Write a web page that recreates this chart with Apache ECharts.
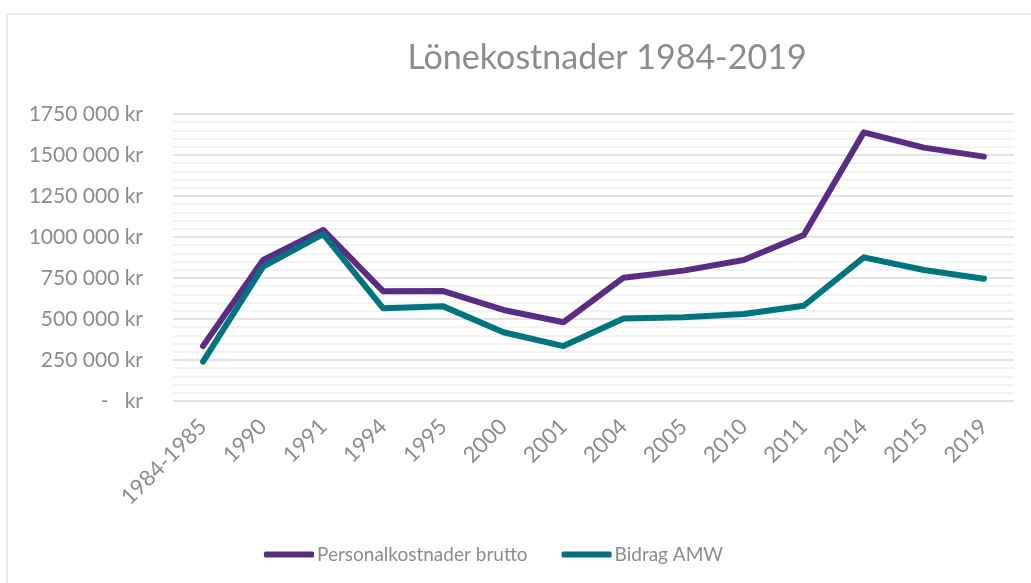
<!DOCTYPE html>
<html>
<head>
<meta charset="utf-8">
<script src="https://cdn.jsdelivr.net/npm/echarts@6/dist/echarts.min.js"></script>
<style>
    html, body { margin: 0; padding: 0; background: #fff; }
    #main { width: 1031px; height: 583px; }
</style>
</head>
<body>
<div id="main"></div>
<script>
    // kategorier (år) och värden i kr
    var years = ['1984-1985', '1990', '1991', '1994', '1995', '2000', '2001', '2004', '2005', '2010', '2011', '2014', '2015', '2019'];
    var personalkostnader = [335000, 860000, 1043000, 669000, 670000, 555000, 480000, 752000, 795000, 860000, 1012000, 1638000, 1545000, 1490000];
    var bidragAMW = [240000, 819000, 1018000, 565000, 577000, 419000, 335000, 503000, 511000, 530000, 581000, 876000, 799000, 746000];
    var yTicks = [0, 250000, 500000, 750000, 1000000, 1250000, 1500000, 1750000];

    var textColor = '#8c8c8c';
    var fontFam = 'Lato';

    function krLabel(v) {
        if (v === 0) return '-   kr';
        var rest = String(v % 1000);
        while (rest.length < 3) rest = '0' + rest;
        return Math.floor(v / 1000) + ' ' + rest + ' kr';
    }

    var chart = echarts.init(document.getElementById('main'));
    chart.setOption({
        animation: false,
        graphic: [{
            type: 'rect',
            shape: { x: 7, y: 14, width: 1040, height: 600 },
            style: { fill: 'none', stroke: '#d9d9d9', lineWidth: 1 },
            silent: true
        }],
        title: {
            text: 'Lönekostnader 1984-2019',
            left: 602,
            textAlign: 'center',
            top: 36,
            textStyle: { color: textColor, fontFamily: fontFam, fontSize: 34, fontWeight: 'normal' }
        },
        legend: {
            top: 540,
            left: 259,
            itemWidth: 50,
            itemHeight: 6,
            itemGap: 34,
            icon: 'roundRect',
            textStyle: { color: textColor, fontFamily: fontFam, fontSize: 19, padding: [0, 0, 0, -2] },
            data: ['Personalkostnader brutto', 'Bidrag AMW']
        },
        grid: { left: 173, right: 17, top: 114, bottom: 182 },
        xAxis: {
            type: 'category',
            data: years,
            boundaryGap: true,
            axisLine: { show: false },
            axisTick: { show: false },
            axisLabel: {
                rotate: 45,
                margin: 22,
                color: textColor,
                fontFamily: fontFam,
                fontSize: 22
            }
        },
        yAxis: {
            type: 'value',
            min: yTicks[0],
            max: yTicks[yTicks.length - 1],
            interval: 250000,
            axisLine: { show: false },
            axisTick: { show: false },
            axisLabel: {
                margin: 30,
                color: textColor,
                fontFamily: fontFam,
                fontSize: 21,
                formatter: krLabel
            },
            splitLine: { lineStyle: { color: '#d9d9d9', width: 1.5 } },
            minorTick: { show: false, splitNumber: 5 },
            minorSplitLine: { show: true, lineStyle: { color: '#f0f0f0', width: 1.5 } }
        },
        series: [{
            name: 'Personalkostnader brutto',
            type: 'line',
            data: personalkostnader,
            symbol: 'none',
            itemStyle: { color: '#5b2c84' },
            lineStyle: { color: '#5b2c84', width: 6, cap: 'round', join: 'round' }
        }, {
            name: 'Bidrag AMW',
            type: 'line',
            data: bidragAMW,
            symbol: 'none',
            itemStyle: { color: '#00747f' },
            lineStyle: { color: '#00747f', width: 6, cap: 'round', join: 'round' }
        }]
    });
</script>
</body>
</html>
